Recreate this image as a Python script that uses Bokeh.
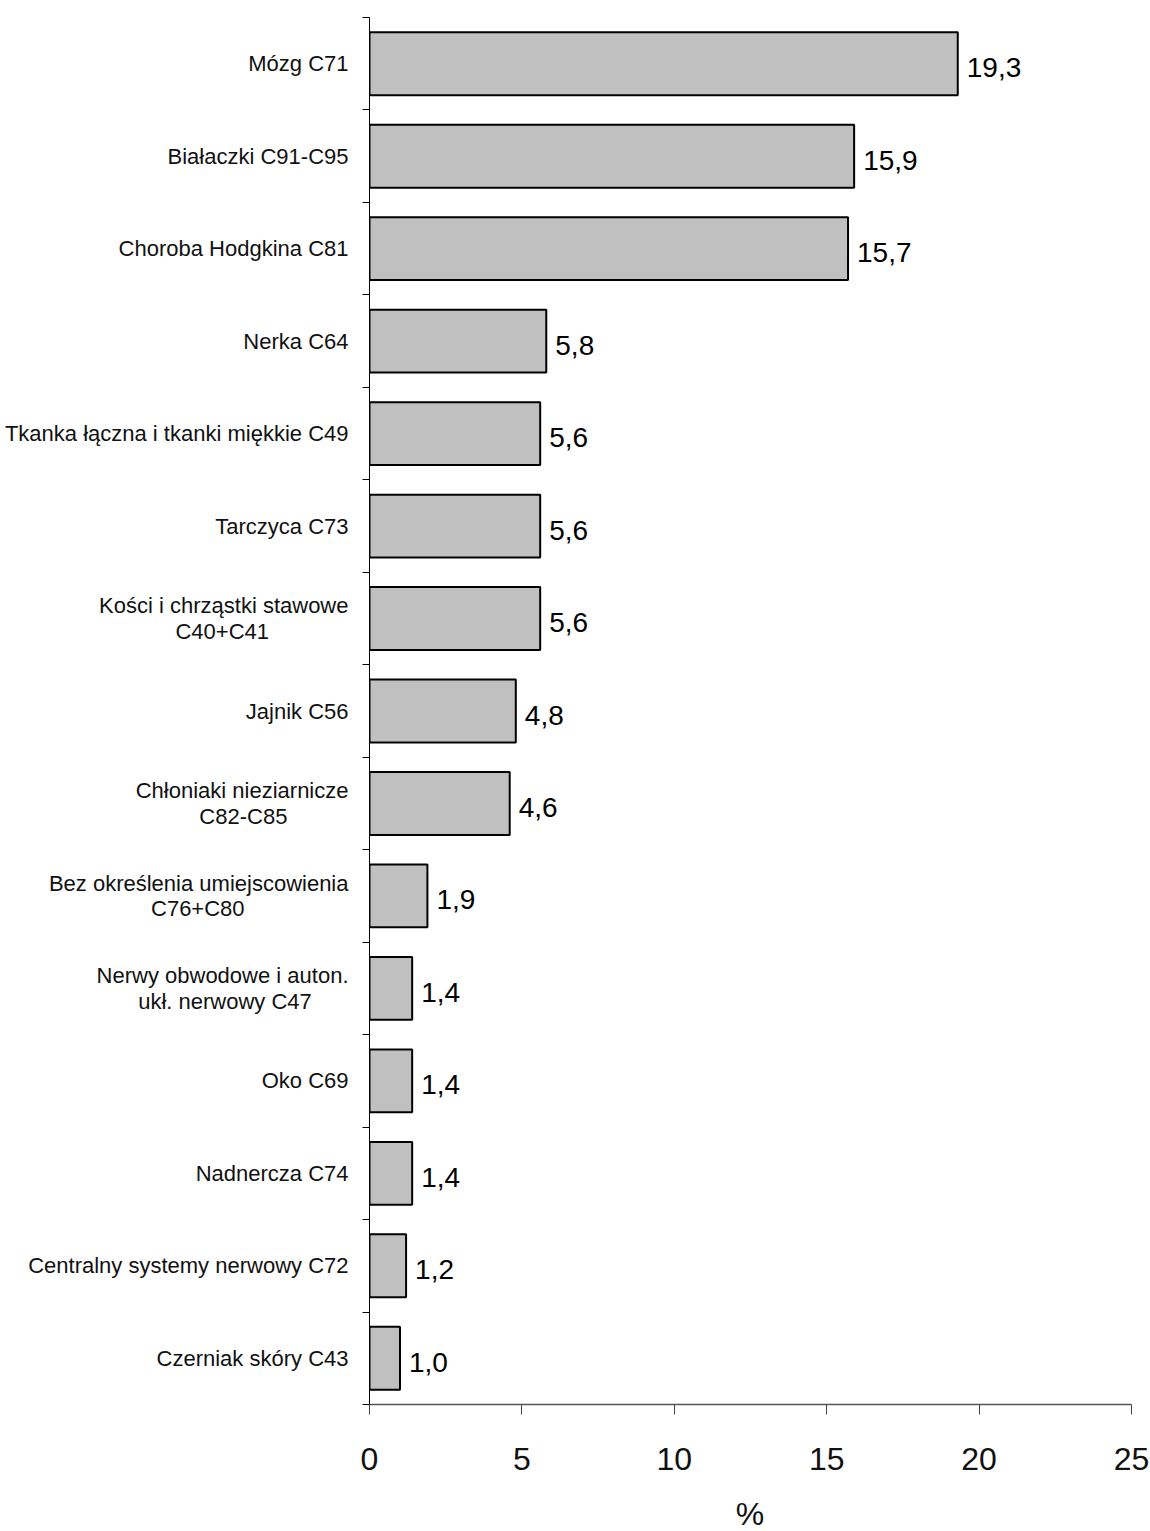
from bokeh.plotting import figure
from bokeh.models import Range1d, FixedTicker, ColumnDataSource, Div
from bokeh.layouts import column
from bokeh.core.properties import value
from bokeh.embed import file_html
from bokeh.resources import INLINE

categories = [
    "Mózg C71",
    "Białaczki C91-C95",
    "Choroba Hodgkina C81",
    "Nerka C64",
    "Tkanka łączna i tkanki miękkie C49",
    "Tarczyca C73",
    "Kości i chrząstki stawowe\nC40+C41",
    "Jajnik C56",
    "Chłoniaki nieziarnicze\nC82-C85",
    "Bez określenia umiejscowienia\nC76+C80",
    "Nerwy obwodowe i auton.\nukł. nerwowy C47",
    "Oko C69",
    "Nadnercza C74",
    "Centralny systemy nerwowy C72",
    "Czerniak skóry C43",
]
values = [19.3, 15.9, 15.7, 5.8, 5.6, 5.6, 5.6, 4.8, 4.6, 1.9, 1.4, 1.4, 1.4, 1.2, 1.0]
x_ticks = [0, 5, 10, 15, 20, 25]
x_label = "%"

n = len(categories)
pos = [n - 1 - i for i in range(n)]
labels = [f"{v:.1f}".replace(".", ",") for v in values]

src = ColumnDataSource(dict(y=pos, v=values, lab=labels))

FONT = "Liberation Sans"
CAT_SIZE = 22

# approximate Arial advance widths (per 1000 em) used to centre the lines of two-line labels
_W = {" ": 278, ".": 278, "+": 584, "-": 333, "C": 722, "K": 667, "N": 722, "B": 667,
      "a": 556, "b": 556, "c": 500, "d": 556, "e": 556, "f": 278, "g": 556, "h": 556,
      "i": 222, "j": 222, "k": 500, "l": 222, "m": 833, "n": 556, "o": 556, "p": 556,
      "q": 556, "r": 333, "s": 500, "t": 278, "u": 556, "w": 722, "y": 500, "z": 500,
      "ą": 556, "ę": 556, "ł": 222, "ś": 500, "ó": 556}


def text_w(s):
    return sum(_W.get(ch, 556) for ch in s)


def centre_lines(label):
    if "\n" not in label:
        return label
    lines = label.split("\n")
    mw = max(text_w(l) for l in lines)
    out = []
    for l in lines:
        k = int(round((mw - text_w(l)) / 2 / 278))
        out.append(l + "\u00a0" * k)
    return "\n".join(out)


PLOT_H = 1491
p = figure(width=1150, height=PLOT_H, output_backend="svg", toolbar_location=None,
           x_range=Range1d(0, 25), y_range=Range1d(-0.5, n - 0.5),
           min_border_left=369, min_border_right=19, min_border_top=17,
           min_border_bottom=PLOT_H - 1404)
p.outline_line_color = None
p.xgrid.visible = False
p.ygrid.visible = False
p.background_fill_color = "white"

p.hbar(y="y", left=0, right="v", height=0.68, source=src,
       fill_color="#C0C0C0", line_color="black", line_width=2)
p.text(x="v", y="y", text="lab", source=src, x_offset=9, y_offset=4,
       text_align="left", text_baseline="middle",
       text_font=value(FONT), text_font_size="28px", text_color="black")

# y axis
ya = p.yaxis[0]
ya.ticker = FixedTicker(ticks=pos, minor_ticks=[k - 0.5 for k in range(n + 1)])
ya.major_label_overrides = {p_: centre_lines(c) for p_, c in zip(pos, categories)}
ya.major_tick_line_color = None
ya.major_tick_out = 0
ya.major_tick_in = 0
ya.minor_tick_out = 7
ya.minor_tick_in = 0
ya.minor_tick_line_color = "black"
ya.minor_tick_line_width = 1
ya.axis_line_color = "black"
ya.axis_line_width = 1
ya.major_label_standoff = 14
ya.major_label_text_font = FONT
ya.major_label_text_font_size = f"{CAT_SIZE}px"
ya.major_label_text_color = "#111111"
ya.major_label_text_line_height = 1.03

# x axis
xa = p.xaxis[0]
xa.ticker = FixedTicker(ticks=x_ticks, minor_ticks=[])
xa.major_tick_out = 10
xa.major_tick_in = 0
xa.major_tick_line_color = "#444444"
xa.axis_line_color = "#555555"
xa.axis_line_width = 1.5
xa.major_label_standoff = 33
xa.major_label_text_font = FONT
xa.major_label_text_font_size = "32px"
xa.major_label_text_color = "#111111"

xlab = Div(text=x_label, width=762, height=1531 - PLOT_H, margin=(0, 0, 0, 369),
           styles={"text-align": "center", "font-size": "32px", "font-family": FONT,
                   "line-height": "1", "padding-top": "7px", "color": "#111111"})

layout = column(p, xlab, spacing=0)
open("out.html", "w").write(file_html(layout, INLINE))
